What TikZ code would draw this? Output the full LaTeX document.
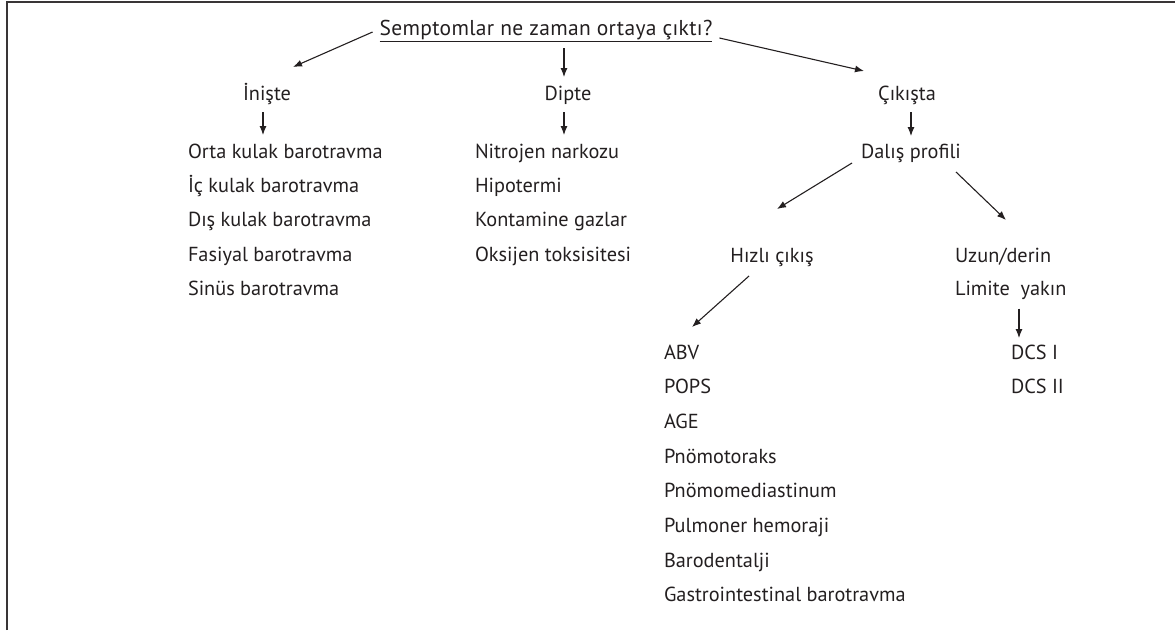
\documentclass[tikz,border=0pt]{standalone}
\usepackage{fontspec}
\setmainfont{PT Sans}
\usetikzlibrary{arrows.meta,calc}
\definecolor{ink}{HTML}{231F20}
\tikzset{
  lbl/.style={inner sep=0pt, outer sep=0pt, text=ink, font=\fontsize{20.3}{24}\selectfont},
  ttl/.style={lbl, font=\fontsize{21.5}{24}\selectfont\addfontfeature{LetterSpace=1.5}},
  arr/.style={draw=ink, line width=1.1pt, -{Latex[length=9pt,width=7pt]}},
  frame/.style={draw=ink!90, line width=2pt}
}
\begin{document}
\begin{tikzpicture}[x=1pt,y=-1pt]
\useasboundingbox (0,0) rectangle (1175,630);
\draw[frame] (7,630) -- (7,2) -- (1175,2);
% headers
\node[ttl, anchor=base] (title) at (546,35) {Semptomlar ne zaman ortaya çıktı?};
\draw[ink, line width=0.9pt] ([yshift=-6pt]title.base west) -- ([yshift=-6pt]title.base east);
\node[lbl, anchor=base] (iniste) at (267,100) {İnişte};
\node[lbl, anchor=base] (dipte) at (568,100) {Dipte};
\node[lbl, anchor=base] (cikista) at (907,100) {Çıkışta};
\node[lbl, anchor=base] (dalis) at (911,158) {Dalış profili};
\node[lbl, anchor=base] (hizli) at (772,262) {Hızlı çıkış};
\node[lbl, anchor=base west] (uzun) at (955,262) {Uzun/derin};
\node[lbl, anchor=base west] (limite) at (955,295.5) {Limite\ \ yakın};
% lists
\foreach \t [count=\i from 0] in {Orta kulak barotravma,İç kulak barotravma,Dış kulak barotravma,Fasiyal barotravma,Sinüs barotravma}
  \node[lbl, anchor=base west] (a\i) at (188,158+\i*34.4) {\t};
\foreach \t [count=\i from 0] in {Nitrojen narkozu,Hipotermi,Kontamine gazlar,Oksijen toksisitesi}
  \node[lbl, anchor=base west] (b\i) at (475,158+\i*34.4) {\t};
\foreach \t [count=\i from 0] in {ABV,POPS,AGE,Pnömotoraks,Pnömomediastinum,Pulmoner hemoraji,Barodentalji,Gastrointestinal barotravma}
  \node[lbl, anchor=base west] (c\i) at (664,359+\i*34.7) {\t};
\foreach \t [count=\i from 0] in {DCS I,DCS II}
  \node[lbl, anchor=base west] (d\i) at (1011,359+\i*34.7) {\t};
% arrows
\draw[arr] ([shift={(-7,-3)}]title.base west) -- ([shift={(26,-33)}]iniste.base);
\draw[arr] ([shift={(18,13)}]title.base) -- ([shift={(-4,-23)}]dipte.base);
\draw[arr] ([shift={(7,3)}]title.base east) -- ([shift={(-43,-29)}]cikista.base);
\draw[arr] ([shift={(-4,12)}]iniste.base) -- ([shift={(75,-23)}]a0.base west);
\draw[arr] ([shift={(-4,12)}]dipte.base) -- ([shift={(89,-23)}]b0.base west);
\draw[arr] ([shift={(4,12)}]cikista.base) -- ([shift={(0,-22)}]dalis.base);
\draw[arr] ([shift={(-59,5)}]dalis.base) -- ([shift={(5,-53)}]hizli.base);
\draw[arr] ([shift={(45,14)}]dalis.base) -- ([shift={(51,-42)}]uzun.base west);
\draw[arr] ([shift={(-23,14)}]hizli.base) -- ([shift={(28,-32)}]c0.base west);
\draw[arr] ([shift={(64,13)}]limite.base west) -- ([shift={(8,-21)}]d0.base west);
\end{tikzpicture}
\end{document}
